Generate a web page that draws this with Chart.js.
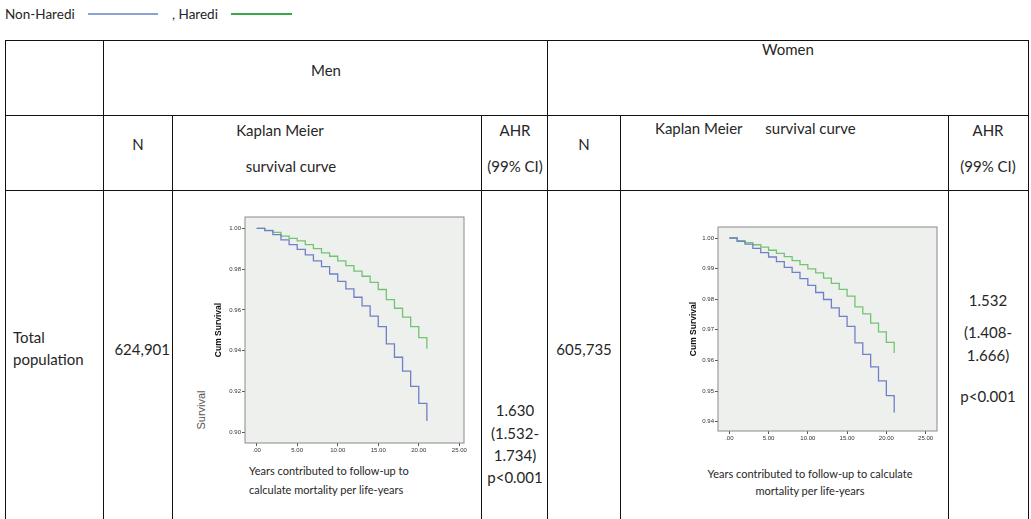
<!DOCTYPE html>
<html>
<head>
<meta charset="utf-8">
<script src="https://cdn.jsdelivr.net/npm/chart.js@4.4.1/dist/chart.umd.min.js"></script>
<style>
  html, body { margin: 0; padding: 0; background: #fff; }
  #page { position: relative; width: 1031px; height: 519px; overflow: hidden; font-family: Lato, "Open Sans", sans-serif; color: #262626; }
  .t { position: absolute; white-space: nowrap; font-size: 15px; line-height: 17px; }
  .c { transform: translate(-50%, -50%); }
  .l { transform: translate(0, -50%); }
  .r { transform: translate(-100%, -50%); }
  .h { position: absolute; height: 1px; background: #111; }
  .v { position: absolute; width: 1px; background: #111; }
  .small { font-size: 11px; line-height: 13px; }
  canvas { position: absolute; }
</style>
</head>
<body>
<div id="page">
  <!-- legend line above the table -->
  <div class="t l" style="left:5px; top:14px; font-size:13.5px;">Non-Haredi</div>
  <div style="position:absolute; left:88px; top:13px; width:70px; height:2px; background:#8aa3d6;"></div>
  <div class="t l" style="left:172px; top:14px; font-size:13.5px;">, Haredi</div>
  <div style="position:absolute; left:231px; top:13px; width:61px; height:1.5px; background:#3aa845;"></div>

  <!-- table grid -->
  <div class="h" style="left:5px; top:40px; width:1024px;"></div>
  <div class="h" style="left:5px; top:115px; width:1024px;"></div>
  <div class="h" style="left:5px; top:190px; width:1024px;"></div>
  <div class="v" style="left:5px; top:40px; height:480px;"></div>
  <div class="v" style="left:103px; top:40px; height:480px;"></div>
  <div class="v" style="left:172px; top:115px; height:405px;"></div>
  <div class="v" style="left:481px; top:115px; height:405px;"></div>
  <div class="v" style="left:547px; top:40px; height:480px;"></div>
  <div class="v" style="left:620px; top:115px; height:405px;"></div>
  <div class="v" style="left:948px; top:115px; height:405px;"></div>
  <div class="v" style="left:1028px; top:40px; height:480px;"></div>

  <!-- header rows -->
  <div class="t c" style="left:326px; top:70px;">Men</div>
  <div class="t c" style="left:788px; top:49px;">Women</div>
  <div class="t c" style="left:138px; top:144px;">N</div>
  <div class="t c" style="left:280px; top:130px;">Kaplan Meier</div>
  <div class="t c" style="left:291px; top:166px;">survival curve</div>
  <div class="t c" style="left:515px; top:130px;">AHR</div>
  <div class="t c" style="left:515px; top:166px;">(99% CI)</div>
  <div class="t c" style="left:584px; top:144px;">N</div>
  <div class="t l" style="left:655px; top:128px;">Kaplan Meier&nbsp;&nbsp;&nbsp;&nbsp;&nbsp; survival curve</div>
  <div class="t c" style="left:988px; top:130px;">AHR</div>
  <div class="t c" style="left:988px; top:166px;">(99% CI)</div>

  <!-- data row -->
  <div class="t l" style="left:13px; top:337px;">Total</div>
  <div class="t l" style="left:13px; top:359px;">population</div>
  <div class="t r" style="left:170px; top:349px;">624,901</div>
  <div class="t c" style="left:584px; top:349px;">605,735</div>
  <div class="t c" style="left:515px; top:410px;">1.630</div>
  <div class="t c" style="left:515px; top:433px;">(1.532-</div>
  <div class="t c" style="left:515px; top:455px;">1.734)</div>
  <div class="t c" style="left:515px; top:477px;">p&lt;0.001</div>
  <div class="t c" style="left:988px; top:300px;">1.532</div>
  <div class="t c" style="left:988px; top:332px;">(1.408-</div>
  <div class="t c" style="left:988px; top:355px;">1.666)</div>
  <div class="t c" style="left:988px; top:396px;">p&lt;0.001</div>

  <div class="t c" style="left:201px; top:410px; font-family:'Liberation Sans', Arial, sans-serif; font-size:11px; color:#555; transform:translate(-50%,-50%) rotate(-90deg);">Survival</div>

  <canvas id="menChart" style="left:200px; top:210px; width:270px; height:250px;"></canvas>
  <canvas id="womenChart" style="left:678px; top:220px; width:265px; height:225px;"></canvas>

  <div class="t l small" style="left:249px; top:470px;">Years contributed to follow-up to</div>
  <div class="t l small" style="left:249px; top:489px;">calculate mortality per life-years</div>
  <div class="t c small" style="left:810px; top:473px;">Years contributed to follow-up to calculate</div>
  <div class="t c small" style="left:810px; top:490px;">mortality per life-years</div>
</div>

<script>
// follow-up years (start of each interval, last one is the end of follow-up)
var years = [0, 1, 2, 3, 4, 5, 6, 7, 8, 9, 10, 11, 12, 13, 14, 15, 16, 17, 18, 19, 20, 21];

// cumulative survival
var menNonHaredi = [1.000, 0.9989, 0.9969, 0.9943, 0.9920, 0.9897, 0.9870, 0.9840, 0.9812, 0.9776, 0.9740,
                    0.9703, 0.9662, 0.9620, 0.9570, 0.9518, 0.9433, 0.9368, 0.9300, 0.9225, 0.9142, 0.9056];
var menHaredi = [1.000, 0.9990, 0.9980, 0.9962, 0.9951, 0.9938, 0.9920, 0.9900, 0.9880, 0.9863, 0.9840,
                 0.9817, 0.9790, 0.9765, 0.9735, 0.9700, 0.9650, 0.9608, 0.9565, 0.9518, 0.9464, 0.9410];
var womenNonHaredi = [1.000, 0.9989, 0.9980, 0.9966, 0.9952, 0.9938, 0.9923, 0.9904, 0.9888, 0.9867, 0.9845,
                      0.9822, 0.9799, 0.9772, 0.9744, 0.9711, 0.9657, 0.9620, 0.9579, 0.9533, 0.9485, 0.9430];
var womenHaredi = [1.000, 0.9991, 0.9985, 0.9978, 0.9970, 0.9960, 0.9950, 0.9939, 0.9926, 0.9913, 0.9899,
                   0.9886, 0.9869, 0.9852, 0.9832, 0.9810, 0.9775, 0.9752, 0.9722, 0.9693, 0.9659, 0.9624];

// tick labels as printed on the plots
var xTickLabels = ['.00', '5.00', '10.00', '15.00', '20.00', '25.00'];
var menYTickLabels = ['0.90', '0.92', '0.94', '0.96', '0.98', '1.00'];
var womenYTickLabels = ['0.94', '0.95', '0.96', '0.97', '0.98', '0.99', '1.00'];

var plotBox = {
    id: 'plotBox',
    beforeDraw: function(chart) {
        var a = chart.chartArea, ctx = chart.ctx;
        ctx.save();
        ctx.fillStyle = '#eef0ee';
        ctx.fillRect(a.left, a.top, a.right - a.left, a.bottom - a.top);
        ctx.restore();
    },
    afterDraw: function(chart) {
        var a = chart.chartArea, ctx = chart.ctx;
        ctx.save();
        ctx.strokeStyle = '#8a8a8a';
        ctx.lineWidth = 1;
        ctx.strokeRect(a.left, a.top, a.right - a.left, a.bottom - a.top);
        ctx.restore();
    }
};

function toPoints(vals) {
    return years.map(function(t, i) { return { x: t, y: vals[i] }; });
}

function kmChart(id, nonHaredi, haredi, yLabels, o) {
    var yVals = yLabels.map(parseFloat);
    var xVals = xTickLabels.map(function(s) { return parseFloat(s); });
    var tickFont = { family: 'Liberation Sans, Arial, sans-serif', size: 6 };
    return new Chart(document.getElementById(id), {
        type: 'line',
        data: {
            datasets: [{
                label: 'Non-Haredi',
                data: toPoints(nonHaredi),
                borderColor: '#7080c8',
                borderWidth: 1.3,
                stepped: true,
                pointRadius: 0
            }, {
                label: 'Haredi',
                data: toPoints(haredi),
                borderColor: '#72c472',
                borderWidth: 1.3,
                stepped: true,
                pointRadius: 0
            }]
        },
        options: {
            responsive: false,
            animation: false,
            layout: { padding: { top: o.padTop, right: o.padRight, left: 0, bottom: 0 } },
            plugins: { legend: { display: false }, tooltip: { enabled: false } },
            scales: {
                x: {
                    type: 'linear',
                    min: o.xMin, max: o.xMax,
                    afterBuildTicks: function(s) { s.ticks = xVals.map(function(v) { return { value: v }; }); },
                    afterFit: function(s) { s.height = o.xHeight; },
                    ticks: {
                        autoSkip: false, maxRotation: 0, padding: 1, color: '#333', font: tickFont,
                        callback: function(v, i) { return xTickLabels[i]; }
                    },
                    grid: { drawOnChartArea: false, tickLength: 3, color: '#555' },
                    border: { display: false }
                },
                y: {
                    min: o.yMin, max: o.yMax,
                    afterBuildTicks: function(s) { s.ticks = yVals.map(function(v) { return { value: v }; }); },
                    afterFit: function(s) { s.width = o.yWidth; },
                    ticks: {
                        autoSkip: false, padding: 1, color: '#333', font: tickFont,
                        callback: function(v, i) { return yLabels[i]; }
                    },
                    grid: { drawOnChartArea: false, tickLength: 3, color: '#555' },
                    border: { display: false },
                    title: {
                        display: true, text: 'Cum Survival', color: '#111',
                        font: { family: 'Liberation Sans, Arial, sans-serif', size: 8.5, weight: 'bold' },
                        padding: { top: o.titlePad, bottom: 0 }
                    }
                }
            }
        },
        plugins: [plotBox]
    });
}

function sizeCanvas(id, w, h) {
    var c = document.getElementById(id);
    c.width = w; c.height = h;
}
sizeCanvas('menChart', 270, 250);
sizeCanvas('womenChart', 265, 225);

kmChart('menChart', menNonHaredi, menHaredi, menYTickLabels, {
    padTop: 7, padRight: 6, xHeight: 17, yWidth: 45, titlePad: 14,
    xMin: -1.44, xMax: 25.58, yMin: 0.89476, yMax: 1.00554
});
kmChart('womenChart', womenNonHaredi, womenHaredi, womenYTickLabels, {
    padTop: 7, padRight: 6, xHeight: 14, yWidth: 40, titlePad: 11,
    xMin: -1.44, xMax: 26.45, yMin: 0.93693, yMax: 1.0036
});
</script>
</body>
</html>
